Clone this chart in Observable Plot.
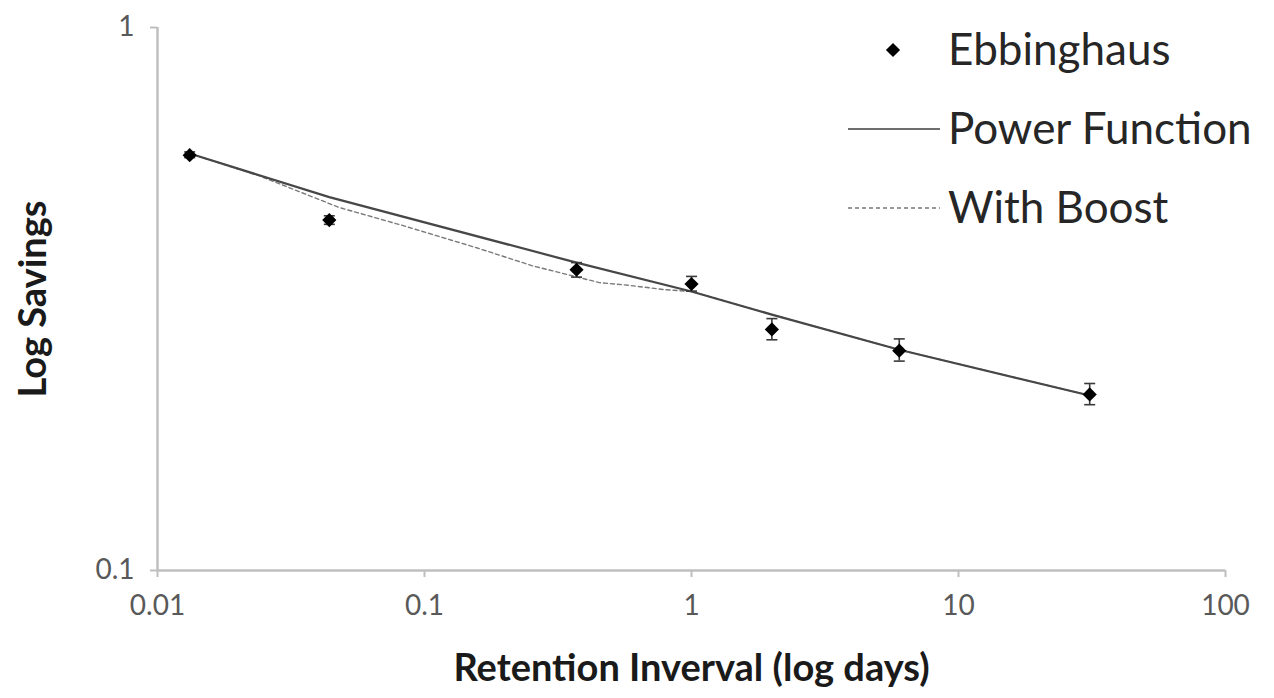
<!DOCTYPE html>
<html>
<head>
<meta charset="utf-8">
<script src="https://cdn.jsdelivr.net/npm/d3@7"></script>
<script src="https://cdn.jsdelivr.net/npm/@observablehq/plot@0.6"></script>
<style>
  html, body { margin: 0; padding: 0; background: #fff; overflow: hidden; }
  #wrap { position: relative; width: 1274px; height: 698px; }
  #legend { position: absolute; left: 0; top: 0; }
</style>
</head>
<body>
<div id="wrap"></div>
<script>
// ---- Data ----
const retentionDays = [0.0132, 0.044, 0.371, 1, 2, 6, 31];
const savings       = [0.582, 0.442, 0.358, 0.337, 0.278, 0.254, 0.211];
const errLow        = [0.576, 0.434, 0.347, 0.327, 0.266, 0.243, 0.202];
const errHigh       = [0.590, 0.450, 0.369, 0.348, 0.291, 0.267, 0.221];

const powerX = [0.0132, 0.044, 0.371, 1, 2, 6, 31];
const powerY = [0.586, 0.487, 0.369, 0.3265, 0.296, 0.255, 0.210];

const boostX = [0.0132, 0.0241, 0.048, 0.0827, 0.1566, 0.2538, 0.452, 0.586, 0.792, 1, 2, 6, 31];
const boostY = [0.586, 0.533, 0.466, 0.432, 0.393, 0.364, 0.339, 0.335, 0.329, 0.3265, 0.296, 0.255, 0.210];

const xTicks = [0.01, 0.1, 1, 10, 100];
const yTicks = [0.1, 1];
const legendLabels = ["Ebbinghaus", "Power Function", "With Boost"];

// ---- Tables built from arrays ----
const points = retentionDays.map((x, i) => ({x, y: savings[i], lo: errLow[i], hi: errHigh[i]}));
const power = powerX.map((x, i) => ({x, y: powerY[i]}));
const boost = boostX.map((x, i) => ({x, y: boostY[i]}));

const cap = {draw(ctx, size) { const w = 5.5; ctx.moveTo(-w, 0); ctx.lineTo(w, 0); }};

const axisColor = "#bfbfbf";
const font = "Lato, 'Open Sans', sans-serif";
const chart = Plot.plot({
  width: 1274,
  height: 698,
  marginLeft: 157,
  marginRight: 49,
  marginTop: 27,
  marginBottom: 128,
  style: {fontFamily: font, fontSize: "28px", color: "#595959", background: "white"},
  x: {type: "log", domain: [0.01, 100]},
  y: {type: "log", domain: [0.1, 1]},
  marks: [
    Plot.ruleX([0.01], {stroke: axisColor, strokeWidth: 2.5}),
    Plot.ruleY([0.1], {stroke: axisColor, strokeWidth: 2.5}),
    Plot.axisX({ticks: xTicks, tickFormat: d => String(+d.toPrecision(3)), tickSize: 7, tickPadding: 18,
      stroke: axisColor, strokeWidth: 2, fill: "#595959",
      label: "Retention Inverval (log days)", labelAnchor: "center", labelOffset: 110, labelArrow: "none"}),
    Plot.axisY({ticks: yTicks, tickFormat: d => String(+d.toPrecision(3)), tickSize: 7, tickPadding: 16,
      stroke: axisColor, strokeWidth: 2, fill: "#595959",
      label: "Log Savings", labelAnchor: "center", labelOffset: 138, labelArrow: "none"}),
    Plot.line(boost, {x: "x", y: "y", stroke: "#7a7a7a", strokeWidth: 1.4, strokeDasharray: "4,3"}),
    Plot.line(power, {x: "x", y: "y", stroke: "#474747", strokeWidth: 2.2}),
    Plot.ruleX(points, {x: "x", y1: "lo", y2: "hi", stroke: "#3a3a3a", strokeWidth: 1.6}),
    Plot.dot(points, {x: "x", y: "lo", symbol: cap, stroke: "#3a3a3a", strokeWidth: 1.6, r: 3}),
    Plot.dot(points, {x: "x", y: "hi", symbol: cap, stroke: "#3a3a3a", strokeWidth: 1.6, r: 3}),
    Plot.dot(points, {x: "x", y: "y", symbol: "diamond2", r: 6.4, fill: "#000", stroke: "none"})
  ]
});

// style axis titles
d3.select(chart).selectAll("[aria-label='x-axis label'], [aria-label='y-axis label']")
  .attr("font-weight", "bold").attr("font-size", 38).attr("fill", "#1a1a1a");

const wrap = document.getElementById("wrap");
wrap.appendChild(chart);

// ---- Legend overlay ----
const leg = d3.select(wrap).append("svg").attr("id", "legend")
  .attr("width", 1274).attr("height", 698)
  .style("font-family", font);
const rowsY = [50, 129, 208];
leg.append("path").attr("d", d3.symbol(d3.symbolDiamond2, Math.PI * 6.4 * 6.4)())
  .attr("transform", `translate(893,${rowsY[0]})`).attr("fill", "#000");
leg.append("line").attr("x1", 848).attr("x2", 940).attr("y1", rowsY[1]).attr("y2", rowsY[1])
  .attr("stroke", "#6e6e6e").attr("stroke-width", 2.2);
leg.append("line").attr("x1", 848).attr("x2", 940).attr("y1", rowsY[2]).attr("y2", rowsY[2])
  .attr("stroke", "#7a7a7a").attr("stroke-width", 1.6).attr("stroke-dasharray", "4,3");
legendLabels.forEach((t, i) => {
  leg.append("text").attr("x", 948).attr("y", rowsY[i]).attr("dy", "0.35em")
    .attr("font-size", 44).attr("fill", "#262626").text(t);
});
</script>
</body>
</html>
